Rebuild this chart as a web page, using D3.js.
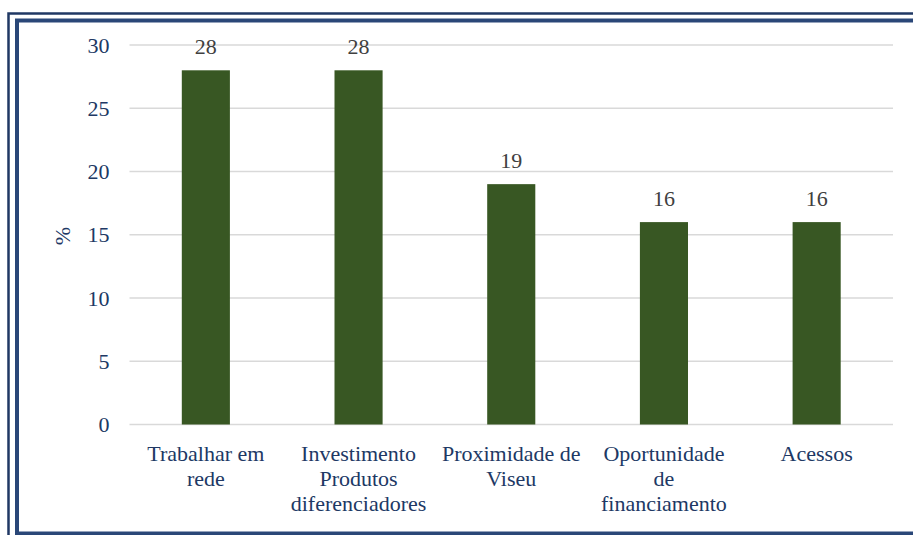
<!DOCTYPE html>
<html>
<head>
<meta charset="utf-8">
<script src="https://cdn.jsdelivr.net/npm/d3@7"></script>
<style>
  html, body { margin: 0; padding: 0; background: #fff; overflow: hidden; }
  svg text { font-family: 'Liberation Serif', 'Times New Roman', 'DejaVu Serif', serif; }
</style>
</head>
<body>
<div class="canvas"></div>
<script>
// Categories (multi-line labels as they wrap in the picture)
const categories = ['Trabalhar em rede', 'Investimento Produtos diferenciadores', 'Proximidade de Viseu', 'Oportunidade de financiamento', 'Acessos'];
const labelLines = [
  ['Trabalhar em', 'rede'],
  ['Investimento', 'Produtos', 'diferenciadores'],
  ['Proximidade de', 'Viseu'],
  ['Oportunidade', 'de', 'financiamento'],
  ['Acessos']
];
// Values in %
const values = [28, 28, 19, 16, 16];
// Y axis ticks
const yTicks = [0, 5, 10, 15, 20, 25, 30];

const svgWidth = 913;
const svgHeight = 535;
const fontSize = 22;

const navy = '#203864';
const barColor = '#385723';

const svg = d3.select('.canvas').append('svg')
  .attr('width', svgWidth)
  .attr('height', svgHeight);

// double frame round the chart
svg.append('rect')
  .attr('x', 8.5).attr('y', 13.5)
  .attr('width', 930).attr('height', 540)
  .attr('fill', 'none')
  .attr('stroke', navy)
  .attr('stroke-width', 2.5);

svg.append('rect')
  .attr('x', 17).attr('y', 20.5)
  .attr('width', 930).attr('height', 513)
  .attr('fill', 'none')
  .attr('stroke', '#2a4778')
  .attr('stroke-width', 4);

// scales
const xScale = d3.scaleBand()
  .domain(categories)
  .range([129.5, 893])
  .paddingInner(0.685)
  .paddingOuter(0.3425);

const yScale = d3.scaleLinear()
  .domain([0, 30])
  .range([424.5, 45]);

// gridlines
svg.append('g')
  .selectAll('line')
  .data(yTicks)
  .enter()
  .append('line')
  .attr('x1', 129.5)
  .attr('x2', 893)
  .attr('y1', d => yScale(d))
  .attr('y2', d => yScale(d))
  .attr('stroke', '#d9d9d9')
  .attr('stroke-width', 1.5);

// y axis (labels only)
const yAxis = d3.axisLeft(yScale).tickValues(yTicks).tickSize(0).tickPadding(20);
const yG = svg.append('g')
  .attr('transform', 'translate(129.5,0)')
  .call(yAxis);
yG.select('.domain').remove();
yG.selectAll('text')
  .attr('fill', navy)
  .attr('font-size', fontSize);

// y axis title
svg.append('text')
  .attr('transform', 'translate(70,236)rotate(-90)')
  .attr('text-anchor', 'middle')
  .attr('fill', navy)
  .attr('font-size', fontSize)
  .text('%');

// bars
svg.append('g')
  .selectAll('rect')
  .data(values)
  .enter()
  .append('rect')
  .attr('x', (d, i) => xScale(categories[i]))
  .attr('y', d => yScale(d))
  .attr('width', xScale.bandwidth())
  .attr('height', d => yScale(0) - yScale(d))
  .attr('fill', barColor);

// data labels
svg.append('g')
  .selectAll('text')
  .data(values)
  .enter()
  .append('text')
  .attr('x', (d, i) => xScale(categories[i]) + xScale.bandwidth() / 2)
  .attr('y', d => yScale(d) - 16)
  .attr('text-anchor', 'middle')
  .attr('fill', '#404040')
  .attr('font-size', fontSize)
  .text(d => d);

// x axis category labels
const xAxis = d3.axisBottom(xScale).tickSize(0).tickFormat('');
const xG = svg.append('g')
  .attr('transform', 'translate(0,' + yScale(0) + ')')
  .call(xAxis);
xG.select('.domain').remove();

xG.selectAll('.tick')
  .append('text')
  .attr('text-anchor', 'middle')
  .attr('fill', navy)
  .attr('font-size', fontSize)
  .selectAll('tspan')
  .data((d, i) => labelLines[i])
  .enter()
  .append('tspan')
  .attr('x', 0)
  .attr('y', (d, i) => 36.5 + i * 25)
  .text(d => d);
</script>
</body>
</html>
